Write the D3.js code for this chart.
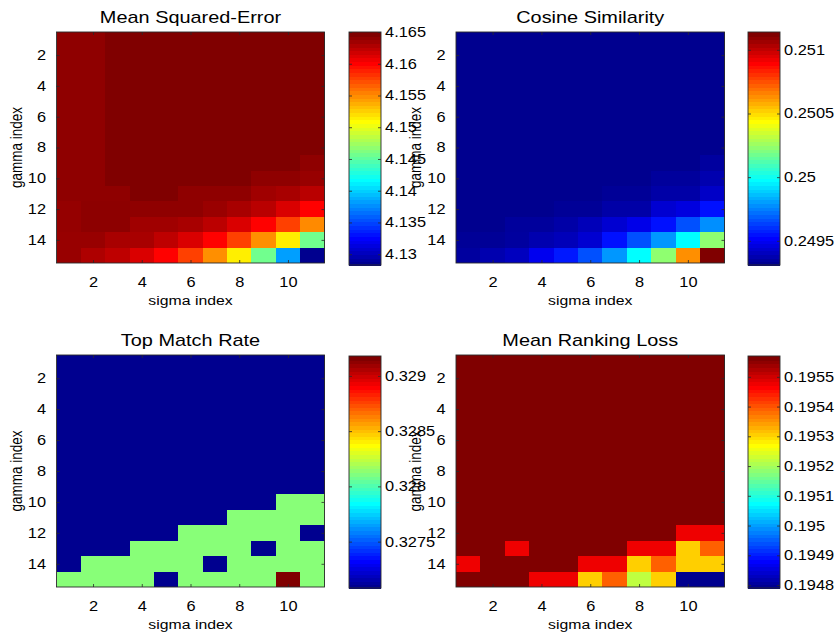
<!DOCTYPE html>
<html>
<head>
<meta charset="utf-8">
<script src="https://cdn.jsdelivr.net/npm/d3@7"></script>
<style>
  body { margin: 0; background: #fff; }
  text { font-family: "Liberation Sans", Arial, Helvetica, sans-serif; fill: #000; }
</style>
</head>
<body>
<svg id="fig" width="838" height="639"></svg>
<script>
// Grid coordinates: sigma index along x (columns), gamma index along y (rows)
const sigmaIndex = [1, 2, 3, 4, 5, 6, 7, 8, 9, 10, 11];
const gammaIndex = [1, 2, 3, 4, 5, 6, 7, 8, 9, 10, 11, 12, 13, 14, 15];
const sigmaTicks = [2, 4, 6, 8, 10];
const gammaTicks = [2, 4, 6, 8, 10, 12, 14];

// Mean squared error, one row per gamma index
const mseValues = [
  [4.1644, 4.1644, 4.1650, 4.1650, 4.1650, 4.1650, 4.1650, 4.1650, 4.1650, 4.1650, 4.1650],
  [4.1644, 4.1644, 4.1650, 4.1650, 4.1650, 4.1650, 4.1650, 4.1650, 4.1650, 4.1650, 4.1650],
  [4.1644, 4.1644, 4.1650, 4.1650, 4.1650, 4.1650, 4.1650, 4.1650, 4.1650, 4.1650, 4.1650],
  [4.1644, 4.1644, 4.1650, 4.1650, 4.1650, 4.1650, 4.1650, 4.1650, 4.1650, 4.1650, 4.1650],
  [4.1644, 4.1644, 4.1650, 4.1650, 4.1650, 4.1650, 4.1650, 4.1650, 4.1650, 4.1650, 4.1650],
  [4.1644, 4.1644, 4.1650, 4.1650, 4.1650, 4.1650, 4.1650, 4.1650, 4.1650, 4.1650, 4.1650],
  [4.1644, 4.1644, 4.1650, 4.1650, 4.1650, 4.1650, 4.1650, 4.1650, 4.1650, 4.1650, 4.1650],
  [4.1644, 4.1644, 4.1650, 4.1650, 4.1650, 4.1650, 4.1650, 4.1650, 4.1650, 4.1650, 4.1650],
  [4.1644, 4.1644, 4.1650, 4.1650, 4.1650, 4.1650, 4.1650, 4.1650, 4.1650, 4.1650, 4.1644],
  [4.1644, 4.1644, 4.1650, 4.1650, 4.1650, 4.1650, 4.1650, 4.1650, 4.1644, 4.1644, 4.1641],
  [4.1644, 4.1644, 4.1644, 4.1650, 4.1650, 4.1644, 4.1644, 4.1644, 4.1638, 4.1635, 4.1629],
  [4.1642, 4.1645, 4.1645, 4.1644, 4.1644, 4.1644, 4.1640, 4.1635, 4.1629, 4.1617, 4.1603],
  [4.1642, 4.1645, 4.1645, 4.1638, 4.1638, 4.1635, 4.1628, 4.1617, 4.1603, 4.1580, 4.1553],
  [4.1641, 4.1641, 4.1635, 4.1635, 4.1627, 4.1617, 4.1603, 4.1580, 4.1551, 4.1516, 4.1458],
  [4.1641, 4.1633, 4.1627, 4.1617, 4.1603, 4.1580, 4.1551, 4.1516, 4.1458, 4.1382, 4.1283]
];

// Cosine similarity
const cosineValues = [
  [0.24931, 0.24931, 0.24931, 0.24931, 0.24931, 0.24931, 0.24931, 0.24931, 0.24931, 0.24931, 0.24931],
  [0.24931, 0.24931, 0.24931, 0.24931, 0.24931, 0.24931, 0.24931, 0.24931, 0.24931, 0.24931, 0.24931],
  [0.24931, 0.24931, 0.24931, 0.24931, 0.24931, 0.24931, 0.24931, 0.24931, 0.24931, 0.24931, 0.24931],
  [0.24931, 0.24931, 0.24931, 0.24931, 0.24931, 0.24931, 0.24931, 0.24931, 0.24931, 0.24931, 0.24931],
  [0.24931, 0.24931, 0.24931, 0.24931, 0.24931, 0.24931, 0.24931, 0.24931, 0.24931, 0.24931, 0.24931],
  [0.24931, 0.24931, 0.24931, 0.24931, 0.24931, 0.24931, 0.24931, 0.24931, 0.24931, 0.24931, 0.24931],
  [0.24931, 0.24931, 0.24931, 0.24931, 0.24931, 0.24931, 0.24931, 0.24931, 0.24931, 0.24931, 0.24931],
  [0.24931, 0.24931, 0.24931, 0.24931, 0.24931, 0.24931, 0.24931, 0.24931, 0.24931, 0.24931, 0.24931],
  [0.24931, 0.24931, 0.24931, 0.24931, 0.24931, 0.24931, 0.24931, 0.24931, 0.24931, 0.24931, 0.249339],
  [0.24931, 0.24931, 0.24931, 0.24931, 0.24931, 0.24931, 0.24931, 0.24931, 0.249333, 0.249333, 0.249368],
  [0.24931, 0.24931, 0.24931, 0.24931, 0.24931, 0.24931, 0.249325, 0.249325, 0.249354, 0.249354, 0.249412],
  [0.24931, 0.24931, 0.24931, 0.24931, 0.249325, 0.249325, 0.249354, 0.249354, 0.249429, 0.249455, 0.249542],
  [0.24931, 0.24931, 0.249333, 0.249333, 0.249354, 0.249386, 0.249429, 0.249473, 0.249542, 0.249659, 0.249775],
  [0.249325, 0.249325, 0.249339, 0.249368, 0.249386, 0.249429, 0.249542, 0.249659, 0.249789, 0.249978, 0.25024],
  [0.249339, 0.249368, 0.249397, 0.249484, 0.249557, 0.249659, 0.249789, 0.249978, 0.25024, 0.250646, 0.25114]
];

// Top match rate
const topMatchValues = [
  [0.32708, 0.32708, 0.32708, 0.32708, 0.32708, 0.32708, 0.32708, 0.32708, 0.32708, 0.32708, 0.32708],
  [0.32708, 0.32708, 0.32708, 0.32708, 0.32708, 0.32708, 0.32708, 0.32708, 0.32708, 0.32708, 0.32708],
  [0.32708, 0.32708, 0.32708, 0.32708, 0.32708, 0.32708, 0.32708, 0.32708, 0.32708, 0.32708, 0.32708],
  [0.32708, 0.32708, 0.32708, 0.32708, 0.32708, 0.32708, 0.32708, 0.32708, 0.32708, 0.32708, 0.32708],
  [0.32708, 0.32708, 0.32708, 0.32708, 0.32708, 0.32708, 0.32708, 0.32708, 0.32708, 0.32708, 0.32708],
  [0.32708, 0.32708, 0.32708, 0.32708, 0.32708, 0.32708, 0.32708, 0.32708, 0.32708, 0.32708, 0.32708],
  [0.32708, 0.32708, 0.32708, 0.32708, 0.32708, 0.32708, 0.32708, 0.32708, 0.32708, 0.32708, 0.32708],
  [0.32708, 0.32708, 0.32708, 0.32708, 0.32708, 0.32708, 0.32708, 0.32708, 0.32708, 0.32708, 0.32708],
  [0.32708, 0.32708, 0.32708, 0.32708, 0.32708, 0.32708, 0.32708, 0.32708, 0.32708, 0.32708, 0.32708],
  [0.32708, 0.32708, 0.32708, 0.32708, 0.32708, 0.32708, 0.32708, 0.32708, 0.32708, 0.32813, 0.32813],
  [0.32708, 0.32708, 0.32708, 0.32708, 0.32708, 0.32708, 0.32708, 0.32813, 0.32813, 0.32813, 0.32813],
  [0.32708, 0.32708, 0.32708, 0.32708, 0.32708, 0.32813, 0.32813, 0.32813, 0.32813, 0.32813, 0.32708],
  [0.32708, 0.32708, 0.32708, 0.32813, 0.32813, 0.32813, 0.32813, 0.32813, 0.32708, 0.32813, 0.32813],
  [0.32708, 0.32813, 0.32813, 0.32813, 0.32813, 0.32813, 0.32708, 0.32813, 0.32813, 0.32813, 0.32813],
  [0.32813, 0.32813, 0.32813, 0.32813, 0.32708, 0.32813, 0.32813, 0.32813, 0.32813, 0.32918, 0.32813]
];

// Mean ranking loss
const rankingLossValues = [
  [0.19557, 0.19557, 0.19557, 0.19557, 0.19557, 0.19557, 0.19557, 0.19557, 0.19557, 0.19557, 0.19557],
  [0.19557, 0.19557, 0.19557, 0.19557, 0.19557, 0.19557, 0.19557, 0.19557, 0.19557, 0.19557, 0.19557],
  [0.19557, 0.19557, 0.19557, 0.19557, 0.19557, 0.19557, 0.19557, 0.19557, 0.19557, 0.19557, 0.19557],
  [0.19557, 0.19557, 0.19557, 0.19557, 0.19557, 0.19557, 0.19557, 0.19557, 0.19557, 0.19557, 0.19557],
  [0.19557, 0.19557, 0.19557, 0.19557, 0.19557, 0.19557, 0.19557, 0.19557, 0.19557, 0.19557, 0.19557],
  [0.19557, 0.19557, 0.19557, 0.19557, 0.19557, 0.19557, 0.19557, 0.19557, 0.19557, 0.19557, 0.19557],
  [0.19557, 0.19557, 0.19557, 0.19557, 0.19557, 0.19557, 0.19557, 0.19557, 0.19557, 0.19557, 0.19557],
  [0.19557, 0.19557, 0.19557, 0.19557, 0.19557, 0.19557, 0.19557, 0.19557, 0.19557, 0.19557, 0.19557],
  [0.19557, 0.19557, 0.19557, 0.19557, 0.19557, 0.19557, 0.19557, 0.19557, 0.19557, 0.19557, 0.19557],
  [0.19557, 0.19557, 0.19557, 0.19557, 0.19557, 0.19557, 0.19557, 0.19557, 0.19557, 0.19557, 0.19557],
  [0.19557, 0.19557, 0.19557, 0.19557, 0.19557, 0.19557, 0.19557, 0.19557, 0.19557, 0.19557, 0.19557],
  [0.19557, 0.19557, 0.19557, 0.19557, 0.19557, 0.19557, 0.19557, 0.19557, 0.19557, 0.195483, 0.195483],
  [0.19557, 0.19557, 0.195483, 0.19557, 0.19557, 0.19557, 0.19557, 0.195483, 0.195483, 0.19531, 0.195397],
  [0.195483, 0.19557, 0.19557, 0.19557, 0.19557, 0.195483, 0.195483, 0.19531, 0.195397, 0.19531, 0.19531],
  [0.19557, 0.19557, 0.19557, 0.195483, 0.195483, 0.19531, 0.195397, 0.195223, 0.19531, 0.19479, 0.19479]
];

// Colorbar tick labels
const mseTicks = [4.13, 4.135, 4.14, 4.145, 4.15, 4.155, 4.16, 4.165];
const cosineTicks = [0.2495, 0.25, 0.2505, 0.251];
const topMatchTicks = [0.3275, 0.328, 0.3285, 0.329];
const rankingLossTicks = [0.1948, 0.1949, 0.195, 0.1951, 0.1952, 0.1953, 0.1954, 0.1955];

// ---- layout ----
const SX = 1.17;          // horizontal stretch applied to all lettering
const TICK_FONT = 14, LABEL_FONT = 13.5, TITLE_FONT = 17;

const panels = [
  { title: "Mean Squared-Error", values: mseValues, cbTicks: mseTicks,
    ax: { x0: 56.5, x1: 324.5, y0: 32, y1: 263 }, cb: { x0: 349, x1: 381, y0: 32, y1: 265 } },
  { title: "Cosine Similarity", values: cosineValues, cbTicks: cosineTicks,
    ax: { x0: 456, x1: 724.5, y0: 32, y1: 263 }, cb: { x0: 748, x1: 780, y0: 32, y1: 265 } },
  { title: "Top Match Rate", values: topMatchValues, cbTicks: topMatchTicks,
    ax: { x0: 56.5, x1: 324.5, y0: 355, y1: 587 }, cb: { x0: 349, x1: 381, y0: 356, y1: 588 } },
  { title: "Mean Ranking Loss", values: rankingLossValues, cbTicks: rankingLossTicks,
    ax: { x0: 456, x1: 724.5, y0: 355, y1: 587 }, cb: { x0: 748, x1: 780, y0: 356, y1: 588 } }
];

// MATLAB-style jet colormap with m entries
function jetColors(m) {
  const n = Math.ceil(m / 4);
  const u = [...d3.range(1, n + 1).map(i => i / n), ...Array(n - 1).fill(1), ...d3.range(n, 0, -1).map(i => i / n)];
  const off = Math.ceil(n / 2) - (m % 4 === 1 ? 1 : 0);
  const cols = Array.from({ length: m }, () => [0, 0, 0]);
  u.forEach((val, k) => {
    const g = off + k, r = g + n, b = g - n;
    if (g >= 0 && g < m) cols[g][1] = val;
    if (r >= 0 && r < m) cols[r][0] = val;
    if (b >= 0 && b < m) cols[b][2] = val;
  });
  return cols.map(([r, g, b]) => d3.rgb(r * 255, g * 255, b * 255).formatHex());
}
const JET = jetColors(64);

const svg = d3.select("#fig");
const AXIS_COLOR = "#2a2a2a";

function stretchedText(parent, x, y, str, size, anchor, rotate) {
  return parent.append("text")
    .attr("transform", `translate(${x},${y}) scale(${SX},1)` + (rotate ? ` rotate(${rotate})` : ""))
    .attr("text-anchor", anchor)
    .style("font-size", size + "px")
    .text(str);
}

function styleAxis(g, fontSize) {
  g.select(".domain").remove();
  g.selectAll(".tick line").attr("stroke", AXIS_COLOR).attr("stroke-width", 0.8);
  g.selectAll(".tick text")
    .attr("transform", `scale(${SX},1)`)
    .attr("fill", "#000")
    .style("font-family", '"Liberation Sans", Arial, sans-serif')
    .style("font-size", fontSize + "px");
  g.attr("font-family", null).attr("font-size", null);
}

panels.forEach(p => {
  const { x0, x1, y0, y1 } = p.ax;
  const g = svg.append("g");

  const x = d3.scaleLinear().domain([0.5, sigmaIndex.length + 0.5]).range([x0, x1]);
  const y = d3.scaleLinear().domain([0.5, gammaIndex.length + 0.5]).range([y0, y1]);

  const [lo, hi] = d3.extent(p.values.flat());
  const color = d3.scaleLinear()
    .domain(d3.range(64).map(i => lo + (hi - lo) * i / 63))
    .range(JET)
    .interpolate(d3.interpolateRgb)
    .clamp(true);

  // heatmap cells
  const cells = [];
  p.values.forEach((row, ri) => row.forEach((v, ci) => cells.push({ s: sigmaIndex[ci], gm: gammaIndex[ri], v })));
  g.append("g").selectAll("rect").data(cells).join("rect")
    .attr("x", d => x(d.s - 0.5))
    .attr("y", d => y(d.gm - 0.5))
    .attr("width", d => x(d.s + 0.5) - x(d.s - 0.5) + 0.4)
    .attr("height", d => y(d.gm + 0.5) - y(d.gm - 0.5) + 0.4)
    .attr("fill", d => color(d.v))
    .attr("shape-rendering", "crispEdges");

  // box
  g.append("rect").attr("x", x0).attr("y", y0).attr("width", x1 - x0).attr("height", y1 - y0)
    .attr("fill", "none").attr("stroke", AXIS_COLOR).attr("stroke-width", 0.9);

  // axes with inward ticks on all four sides
  const bottom = g.append("g").attr("transform", `translate(0,${y1})`)
    .call(d3.axisBottom(x).tickValues(sigmaTicks).tickSize(-3).tickPadding(14));
  styleAxis(bottom, TICK_FONT);
  const top = g.append("g").attr("transform", `translate(0,${y0})`)
    .call(d3.axisTop(x).tickValues(sigmaTicks).tickSize(-3).tickFormat(""));
  styleAxis(top, TICK_FONT);
  const left = g.append("g").attr("transform", `translate(${x0},0)`)
    .call(d3.axisLeft(y).tickValues(gammaTicks).tickSize(-3).tickPadding(9));
  styleAxis(left, TICK_FONT);
  const right = g.append("g").attr("transform", `translate(${x1},0)`)
    .call(d3.axisRight(y).tickValues(gammaTicks).tickSize(-3).tickFormat(""));
  styleAxis(right, TICK_FONT);

  // titles and axis labels
  const cx = (x0 + x1) / 2, cy = (y0 + y1) / 2;
  stretchedText(g, cx, y0 - 9, p.title, TITLE_FONT, "middle");
  stretchedText(g, cx, y1 + 42, "sigma index", LABEL_FONT, "middle");
  stretchedText(g, x0 - 35, cy, "gamma index", LABEL_FONT, "middle", -90);

  // colorbar: 64 solid bands
  const cb = p.cb;
  const cbScale = d3.scaleLinear().domain([lo, hi]).range([cb.y1, cb.y0]);
  const bands = d3.range(64);
  g.append("g").selectAll("rect").data(bands).join("rect")
    .attr("x", cb.x0)
    .attr("width", cb.x1 - cb.x0)
    .attr("y", i => cbScale(lo + (hi - lo) * (i + 1) / 64))
    .attr("height", i => Math.max(1, cbScale(lo + (hi - lo) * i / 64) - cbScale(lo + (hi - lo) * (i + 1) / 64) + 1))
    .attr("fill", i => JET[i])
    .attr("shape-rendering", "crispEdges");
  g.append("rect").attr("x", cb.x0).attr("y", cb.y0).attr("width", cb.x1 - cb.x0).attr("height", cb.y1 - cb.y0)
    .attr("fill", "none").attr("stroke", AXIS_COLOR).attr("stroke-width", 0.9);
  const cbRight = g.append("g").attr("transform", `translate(${cb.x1},0)`)
    .call(d3.axisRight(cbScale).tickValues(p.cbTicks).tickSize(-3).tickPadding(3.5).tickFormat(v => String(v)));
  styleAxis(cbRight, TICK_FONT);
  const cbLeft = g.append("g").attr("transform", `translate(${cb.x0},0)`)
    .call(d3.axisLeft(cbScale).tickValues(p.cbTicks).tickSize(-3).tickFormat(""));
  styleAxis(cbLeft, TICK_FONT);
});
</script>
</body>
</html>
